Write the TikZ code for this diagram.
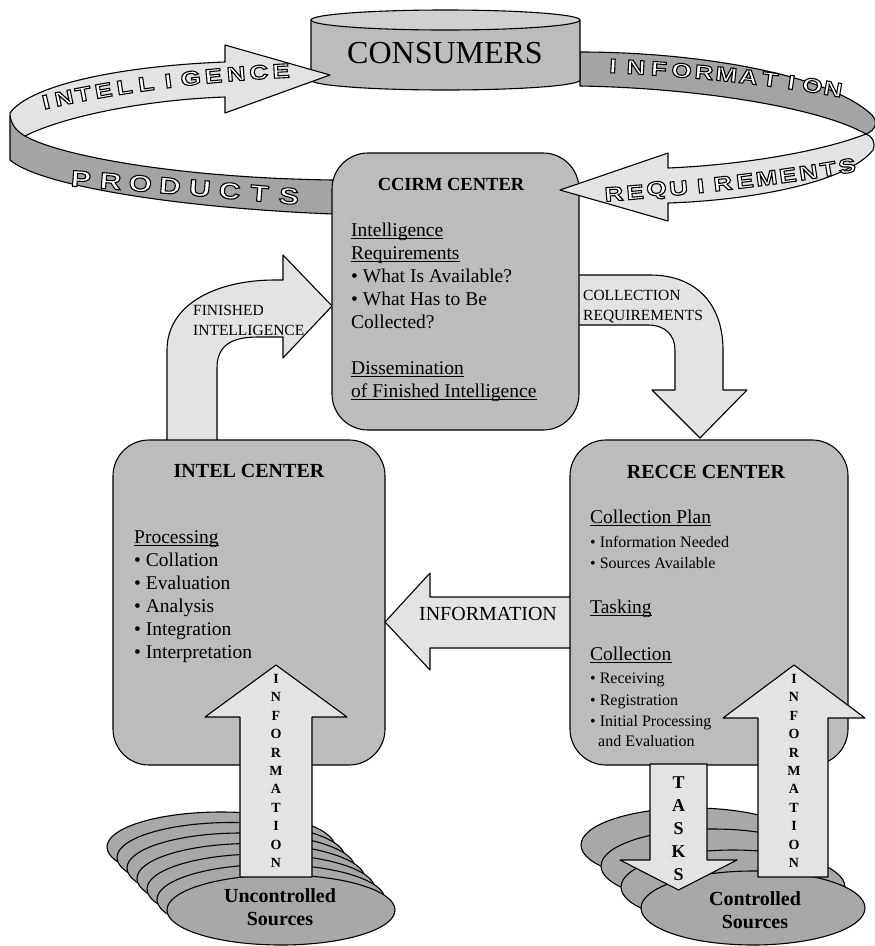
\documentclass[tikz,border=0pt]{standalone}
\usepackage{fontspec}
\setmainfont{Liberation Serif}
\newfontfamily\bandfont[FakeStretch=1.3]{Liberation Sans}

\definecolor{boxgray}{HTML}{BCBCBC}
\definecolor{bandgray}{HTML}{A4A4A4}
\definecolor{palegray}{HTML}{E3E3E3}
\definecolor{lidgray}{HTML}{D0D0D0}
\definecolor{srcgray}{HTML}{A8A8A8}

% hollow lettering: white fill with a black stroked outline
\newcommand\hollow[1]{\special{pdf:literal direct 2 Tr 1.1 w 0 0 0 RG}#1\special{pdf:literal direct 0 Tr}}
% underline under a one-line text node
\newcommand\ulnode[1]{\draw[line width=1.1pt] ([yshift=-2.8pt]#1.base west) -- ([yshift=-2.8pt]#1.base east);}

\tikzset{
  ink/.style={draw=black, line width=1.1pt, line join=round},
  ctrbox/.style={ink, fill=boxgray, rounded corners=36pt, inner sep=0pt},
  band/.style={ink, fill=bandgray},
  pale/.style={ink, fill=palegray},
  bandletter/.style={sloped, inner sep=0pt, text=white,
    font=\bandfont\bfseries\fontsize{#1}{#1}\selectfont},
  heading/.style={font=\fontsize{20}{24}\selectfont\bfseries, inner sep=0pt, anchor=base},
  body/.style={font=\fontsize{19.5}{22}\selectfont, inner sep=0pt, anchor=base west},
  small/.style={font=\fontsize{16}{20}\selectfont, inner sep=0pt, anchor=base west},
  flowlabel/.style={font=\fontsize{15.5}{20}\selectfont, inner sep=0pt, anchor=base west},
  vletters/.style={font=\fontsize{14}{18.4}\selectfont\bfseries, inner sep=0pt, align=center},
  srctext/.style={font=\fontsize{20}{23}\selectfont\bfseries, inner sep=0pt, anchor=base}
}

\begin{document}
\begin{tikzpicture}[x=1pt, y=-1pt]
\useasboundingbox (0,0) rectangle (875,946);

% ---- ribbon: darker side faces ----
\draw[band] (10,116) -- (10,160) .. controls (40,186) and (180,208) .. (333,214)
  -- (333,180) .. controls (180,178) and (60,156) .. (25,136) -- cycle;
\draw[band] (580,52) .. controls (700,52) and (830,75) .. (872,115)
  .. controls (878,122) and (876,130) .. (866,134)
  .. controls (820,108) and (700,88) .. (580,86) -- cycle;

% ---- consumers drum ----
\draw[ink, fill=boxgray] (311,20) -- (311,80) arc[start angle=180, end angle=0, x radius=134.5, y radius=10] -- (580,20) -- cycle;
\draw[ink, fill=lidgray] (445.5,20) ellipse[x radius=134.5, y radius=10];
\node[font=\fontsize{32}{36}\selectfont, inner sep=0pt, anchor=base] (consumers) at (445,63) {CONSUMERS};

% ---- block arrows between the centres ----
\draw[pale] (167,445) -- (167,350) .. controls (167,305) and (215,280) .. (275,280) -- (283,280)
  -- (283,255) -- (332,306) -- (283,358) -- (283,337) -- (258,337)
  .. controls (232,337) and (217,345) .. (217,368) -- (217,445) -- cycle;
\draw[pale] (570,275) -- (650,275) .. controls (697,275) and (723,305) .. (723,350) -- (723,390)
  -- (747,390) -- (700,438) -- (652,390) -- (675,390) -- (675,350)
  .. controls (675,335) and (665,325) .. (648,325) -- (570,325) -- cycle;
\draw[pale] (580,597) -- (430,597) -- (430,573) -- (385,622) -- (430,670) -- (430,648) -- (580,648) -- cycle;

% ---- centres ----
\node[ctrbox, minimum width=247pt, minimum height=277pt] (ccirm) at (455.5,291.5) {};
\node[ctrbox, minimum width=272pt, minimum height=325pt] (intel) at (249,602.5) {};
\node[ctrbox, minimum width=278pt, minimum height=325pt] (recce) at (709,602.5) {};

% ---- ribbon: pale arrow faces ----
\draw[pale] (25,136) .. controls (60,118) and (140,100) .. (225,97) -- (225,113) -- (330,75)
  -- (225,45) -- (225,62) .. controls (120,66) and (30,85) .. (10,113)
  .. controls (10,125) and (18,132) .. (25,136) -- cycle;
\draw[pale] (866,134) .. controls (820,152) and (740,165) .. (668,168) -- (668,153) -- (560,190)
  -- (668,221) -- (668,203) .. controls (760,200) and (850,180) .. (873,150)
  .. controls (876,142) and (872,136) .. (866,134) -- cycle;

% ---- ribbon lettering, one letter at a time along the band ----
\path (46,102) .. controls (110,87) and (200,75) .. (281,71)
  \foreach \ch [count=\i, evaluate=\i as \t using (\i-1)/11] in {I,N,T,E,L,L,I,G,E,N,C,E}
  { node[bandletter=20, pos=\t] (lt-\i) {\hollow{\ch}} };
\path (81,179) .. controls (150,184) and (220,190) .. (289,196)
  \foreach \ch [count=\i, evaluate=\i as \t using (\i-1)/7] in {P,R,O,D,U,C,T,S}
  { node[bandletter=23, pos=\t] (lp-\i) {\hollow{\ch}} };
\path (613,66) .. controls (690,70) and (765,77) .. (833,89)
  \foreach \ch [count=\i, evaluate=\i as \t using (\i-1)/10] in {I,N,F,O,R,M,A,T,I,O,N}
  { node[bandletter=20, pos=\t] (lf-\i) {\hollow{\ch}} };
\path (614,194) .. controls (690,188) and (780,178) .. (847,166)
  \foreach \ch [count=\i, evaluate=\i as \t using (\i-1)/11] in {R,E,Q,U,I,R,E,M,E,N,T,S}
  { node[bandletter=20, pos=\t] (lr-\i) {\hollow{\ch}} };

% ---- source stacks ----
\foreach \k in {6,5,...,0}
  \draw[ink, fill=srcgray] ({281-10*\k},{910-10.5*\k}) ellipse[x radius=114, y radius=35];
\foreach \k in {3,2,1,0}
  \draw[ink, fill=srcgray] ({753-20*\k},{908-21*\k}) ellipse[x radius=112, y radius=37];

% ---- vertical block arrows ----
\draw[pale] (240,877) -- (240,717) -- (205,717) -- (276,665) -- (347,717) -- (312,717) -- (312,877) -- cycle;
\draw[pale] (650,764) -- (707,764) -- (707,860) -- (737,860) -- (678.5,890) -- (620,860) -- (650,860) -- cycle;
\draw[pale] (758,877) -- (758,718) -- (723,718) -- (794,665) -- (865,718) -- (828,718) -- (828,877) -- cycle;

\node[vletters] (infoL) at (276,771) {I\\N\\F\\O\\R\\M\\A\\T\\I\\O\\N};
\node[vletters] (infoR) at (794,771) {I\\N\\F\\O\\R\\M\\A\\T\\I\\O\\N};
\node[vletters, font=\fontsize{18}{23}\selectfont\bfseries] (tasks) at (678.5,829) {T\\A\\S\\K\\S};

\node[srctext] (unc1) at (280,902) {Uncontrolled};
\node[srctext] (unc2) at (280,925) {Sources};
\node[srctext] (con1) at (755,905) {Controlled};
\node[srctext] (con2) at (755,928) {Sources};

% ---- arrow labels ----
\node[flowlabel] (fin1) at (193,315) {FINISHED};
\node[flowlabel] (fin2) at (193,335) {INTELLIGENCE};
\node[flowlabel] (col1) at (583,300) {COLLECTION};
\node[flowlabel] (col2) at (583,320) {REQUIREMENTS};
\node[font=\fontsize{20}{24}\selectfont, inner sep=0pt, anchor=base] (infoH) at (488,620) {INFORMATION};

% ---- CCIRM centre text ----
\node[heading, font=\fontsize{18.5}{22}\selectfont\bfseries] (ccirmT) at (451,190) {CCIRM CENTER};
\node[body] (ci1) at (351,236) {Intelligence};
\node[body] (ci2) at (351,259) {Requirements};
\node[body] (ci3) at (351,282) {\textbullet\ What Is Available?};
\node[body] (ci4) at (351,305) {\textbullet\ What Has to Be};
\node[body] (ci5) at (351,328) {Collected?};
\node[body] (ci6) at (351,374) {Dissemination};
\node[body] (ci7) at (351,397) {of Finished Intelligence};
\ulnode{ci1}\ulnode{ci2}\ulnode{ci6}\ulnode{ci7}

% ---- INTEL centre text ----
\node[heading] (intelT) at (249,477) {INTEL CENTER};
\node[body] (in1) at (134,543) {Processing};
\node[body] (in2) at (134,566) {\textbullet\ Collation};
\node[body] (in3) at (134,589) {\textbullet\ Evaluation};
\node[body] (in4) at (134,612) {\textbullet\ Analysis};
\node[body] (in5) at (134,635) {\textbullet\ Integration};
\node[body] (in6) at (134,658) {\textbullet\ Interpretation};
\ulnode{in1}

% ---- RECCE centre text ----
\node[heading] (recceT) at (706,478) {RECCE CENTER};
\node[body] (re1) at (590,523) {Collection Plan};
\node[small] (re2) at (590,547) {\textbullet\ Information Needed};
\node[small] (re3) at (590,568) {\textbullet\ Sources Available};
\node[body] (re4) at (590,613) {Tasking};
\node[body] (re5) at (590,660) {Collection};
\node[small] (re6) at (590,683) {\textbullet\ Receiving};
\node[small] (re7) at (590,705) {\textbullet\ Registration};
\node[small] (re8) at (590,726) {\textbullet\ Initial Processing};
\node[small] (re9) at (598,746) {and Evaluation};
\ulnode{re1}\ulnode{re4}\ulnode{re5}
\end{tikzpicture}
\end{document}
